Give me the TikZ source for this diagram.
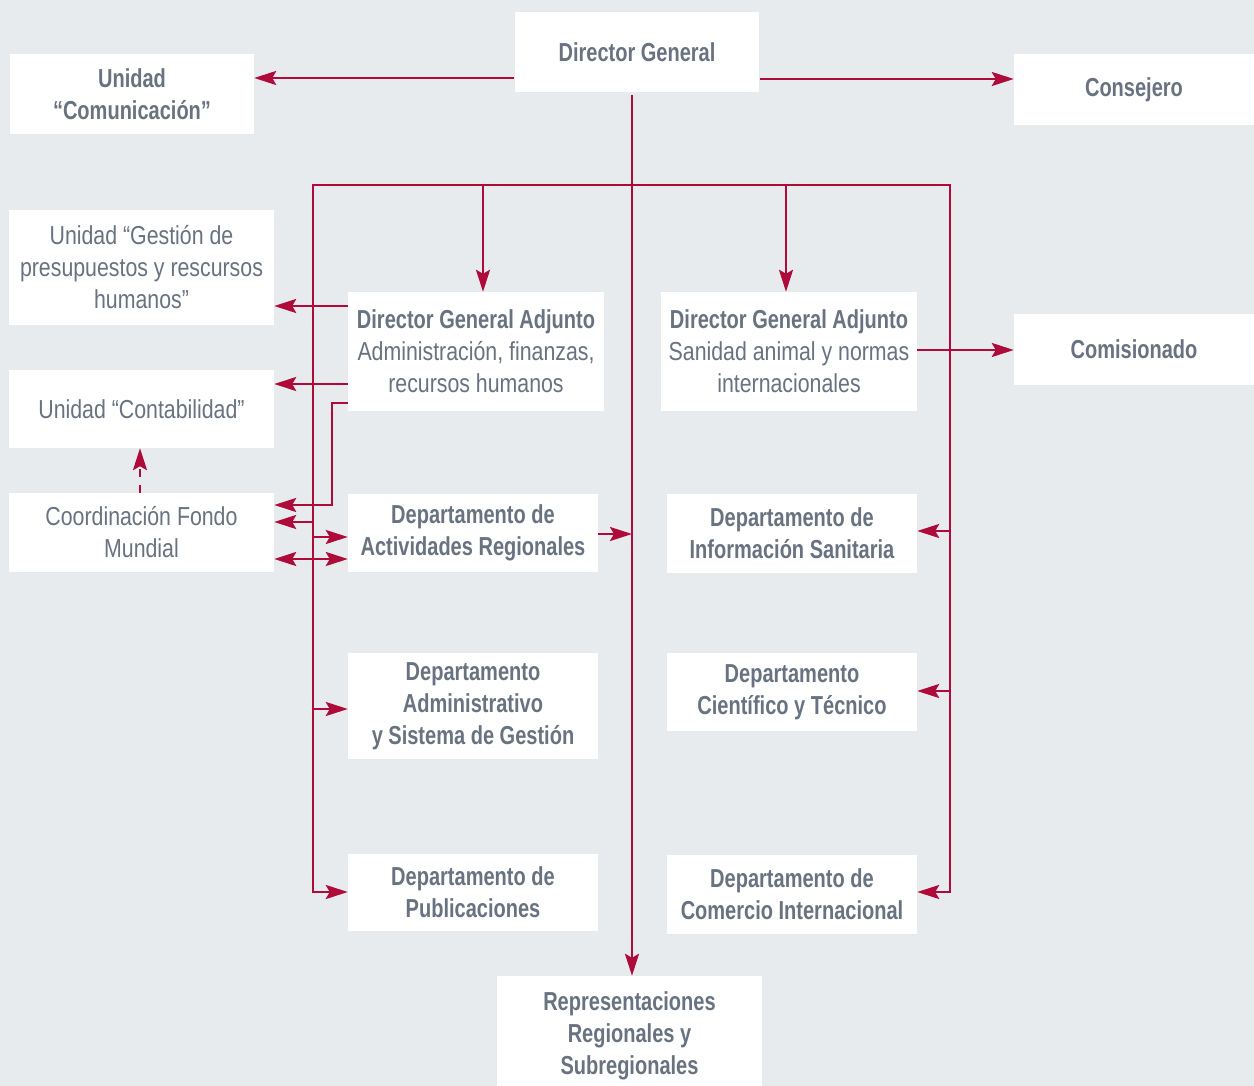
\documentclass[tikz,border=0pt]{standalone}
\usepackage{fontspec}
\setmainfont{Liberation Sans}[FakeStretch=0.82, BoldFeatures={FakeStretch=0.77}]
\usetikzlibrary{arrows.meta}
\definecolor{bgc}{HTML}{E8EBEE}
\definecolor{txtc}{HTML}{687280}
\definecolor{linec}{HTML}{AE0A3A}
\begin{document}
\begin{tikzpicture}[x=1pt,y=-1pt,
  box/.style={fill=white, inner sep=0pt, align=center, text=txtc,
    font=\fontsize{26}{32}\selectfont},
  conn/.style={draw=linec, line width=2.6pt, line join=miter},
  arr/.style={conn, -{Stealth[length=22pt,width=14pt,inset=4pt]}},
  darr/.style={conn, {Stealth[length=22pt,width=14pt,inset=4pt]}-{Stealth[length=22pt,width=14pt,inset=4pt]}},
]
\fill[bgc] (0,0) rectangle (1254,1086);
\useasboundingbox (0,0) rectangle (1254,1086);

% nodes
\node[box, minimum width=244pt, minimum height=80pt] (dg) at (637,52.5) {\bfseries Director General};
\node[box, minimum width=244pt, minimum height=80pt] (com) at (132,94) {\bfseries Unidad\\\bfseries “Comunicación”};
\node[box, minimum width=240pt, minimum height=71pt] (cons) at (1134,89.5) {\bfseries Consejero};
\node[box, minimum width=265pt, minimum height=115pt] (ges) at (141.5,267.5) {Unidad “Gestión de\\presupuestos y rescursos\\humanos”};
\node[box, minimum width=265pt, minimum height=78pt] (cont) at (141.5,409) {Unidad “Contabilidad”};
\node[box, minimum width=265pt, minimum height=79pt] (coord) at (141.5,532.5) {Coordinación Fondo\\Mundial};
\node[box, minimum width=256pt, minimum height=119pt] (dga1) at (476,351.5) {\textbf{Director General Adjunto}\\Administración, finanzas,\\recursos humanos};
\node[box, minimum width=256pt, minimum height=119pt] (dga2) at (789,351.5) {\textbf{Director General Adjunto}\\Sanidad animal y normas\\internacionales};
\node[box, minimum width=240pt, minimum height=71pt] (comi) at (1134,349.5) {\bfseries Comisionado};
\node[box, minimum width=250pt, minimum height=78pt] (dar) at (473,533) {\bfseries Departamento de\\\bfseries Actividades Regionales};
\node[box, minimum width=250pt, minimum height=79pt] (dis) at (792,533.5) {\bfseries Departamento de\\\bfseries Información Sanitaria};
\node[box, minimum width=250pt, minimum height=106pt] (dadm) at (473,706) {\bfseries Departamento\\\bfseries Administrativo\\\bfseries y Sistema de Gestión};
\node[box, minimum width=250pt, minimum height=78pt] (dct) at (792,692) {\bfseries Departamento\\\bfseries Científico y Técnico};
\node[box, minimum width=250pt, minimum height=77pt] (dpub) at (473,892.5) {\bfseries Departamento de\\\bfseries Publicaciones};
\node[box, minimum width=250pt, minimum height=79pt] (dci) at (792,894.5) {\bfseries Departamento de\\\bfseries Comercio Internacional};
\node[box, minimum width=265pt, minimum height=120pt] (rep) at (629.5,1036) {\bfseries Representaciones\\\bfseries Regionales y\\\bfseries Subregionales};

% coordinates
\coordinate (dgL) at (514,78);
\coordinate (dgR) at (760,79);
\coordinate (vtop) at (632,95);
\coordinate (busL) at (313,185);
\coordinate (busR) at (950,185);
\coordinate (b1) at (483,185);
\coordinate (b2) at (786,185);
\coordinate (r1) at (950,531);
\coordinate (r2) at (950,691);
\coordinate (l1) at (313,537);
\coordinate (l2) at (313,709);
\coordinate (l3) at (313,522);
\coordinate (dd) at (313,559);
\coordinate (g1) at (348,306);
\coordinate (g2) at (348,384);
\coordinate (e1) at (332,403);
\coordinate (e2) at (332,505);
\coordinate (mm) at (632,534);
\coordinate (cc) at (917,350);
\coordinate (kk) at (140,0);
\coordinate (pubin) at (348,892);
\coordinate (ciin) at (917,892);

% connectors
\draw[arr] (dgL) -- (dgL -| com.east);
\draw[arr] (dgR) -- (dgR -| cons.west);
\draw[arr] (vtop) -- (vtop |- rep.north);
\draw[darr] (pubin -| dpub.west) -- (busL |- pubin) -- (busL) -- (busR) -- (busR |- ciin) -- (ciin -| dci.east);
\draw[arr] (b1) -- (b1 |- dga1.north);
\draw[arr] (b2) -- (b2 |- dga2.north);
\draw[arr] (r1) -- (r1 -| dis.east);
\draw[arr] (r2) -- (r2 -| dct.east);
\draw[arr] (l1) -- (l1 -| dar.west);
\draw[arr] (l2) -- (l2 -| dadm.west);
\draw[arr] (l3) -- (l3 -| coord.east);
\draw[darr] (dd -| coord.east) -- (dd -| dar.west);
\draw[arr] (g1 -| dga1.west) -- (g1 -| ges.east);
\draw[arr] (g2 -| dga1.west) -- (g2 -| cont.east);
\draw[arr] (e1 -| dga1.west) -- (e1) -- (e2) -- (e2 -| coord.east);
\draw[arr] (mm -| dar.east) -- (mm);
\draw[arr] (cc -| dga2.east) -- (cc -| comi.west);
\draw[arr, line width=2.2pt, dash pattern=on 8pt off 8pt] (kk |- coord.north) -- (kk |- cont.south);
\end{tikzpicture}
\end{document}
